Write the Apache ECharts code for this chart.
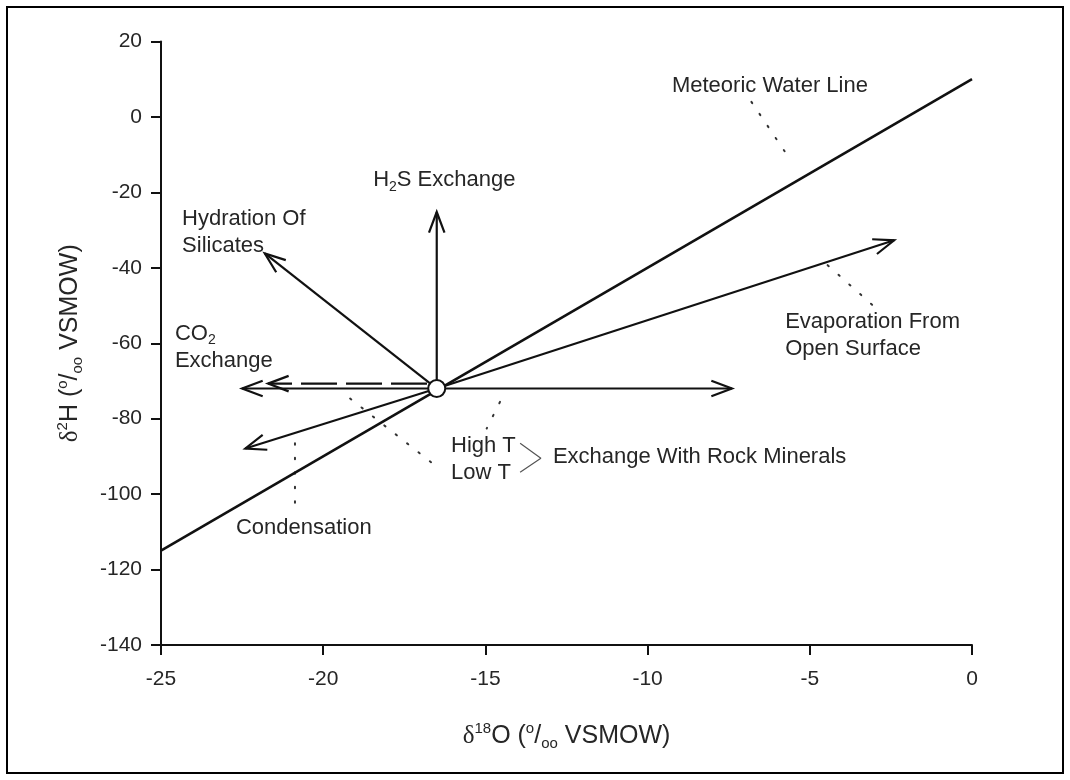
<!DOCTYPE html>
<html>
<head>
<meta charset="utf-8">
<title>Isotope shifts relative to the Meteoric Water Line</title>
<script src="https://cdn.jsdelivr.net/npm/echarts@6/dist/echarts.min.js"></script>
<style>
  html, body { margin: 0; padding: 0; background: #fff; }
  #chart { width: 1070px; height: 780px; }
</style>
</head>
<body>
<div id="chart"></div>
<script>
// Axis ranges and ticks (delta-18O on x, delta-2H on y, per mil VSMOW)
const xTicks = [-25, -20, -15, -10, -5, 0];
const yTicks = [-140, -120, -100, -80, -60, -40, -20, 0, 20];

// Meteoric Water Line end points
const mwlX = [-25, 0];
const mwlY = [-115, 10];

// Starting water composition (open circle)
const origin = [-16.5, -72];

// Process arrows: start and tip in delta units
const arrowNames   = ['H2S exchange', 'Hydration of silicates', 'CO2 exchange', 'Low T rock exchange', 'High T rock exchange', 'Evaporation', 'Condensation'];
const arrowStartX  = [-16.5, -16.5, -16.8, -16.5, -16.5, -16.5, -16.5];
const arrowStartY  = [-72, -72, -70.7, -72, -72, -72, -72];
const arrowTipX    = [-16.5, -21.8, -21.7, -22.5, -7.4, -2.4, -22.4];
const arrowTipY    = [-25.2, -36.2, -70.7, -72, -72, -32.7, -87.9];
const arrowDashed  = [0, 0, 1, 0, 0, 0, 0];

// Dotted leader lines from the labels to their marks
const leaderX0 = [-6.8, -4.45, -14.55, -19.17, -20.87];
const leaderY0 = [4.0, -39.3, -75.55, -74.65, -86.5];
const leaderX1 = [-5.65, -3.0, -14.96, -16.52, -20.87];
const leaderY1 = [-10.7, -50.4, -82.6, -92.6, -104.2];

// Annotation texts and their left/middle anchors
const noteText = [
  'Meteoric Water Line',
  '{t|H}{sub|2}{t|S Exchange}',
  'Hydration Of\nSilicates',
  '{t|CO}{sub|2}\n{t|Exchange}',
  'High T\nLow T',
  'Exchange With Rock Minerals',
  'Evaporation From\nOpen Surface',
  'Condensation'
];
const noteX = [-9.25, -18.46, -24.35, -24.57, -16.06, -12.92, -5.76, -22.69];
const noteY = [8.1, -16.8, -30.5, -61.1, -90.7, -90.2, -57.9, -109.0];

// Angle bracket joining "High T" and "Low T"
const braceX = [-13.93, -13.29, -13.93];
const braceY = [-86.5, -90.5, -94.2];

const INK = '#111';
const TEXT = '#262626';
const SANS = '"Liberation Sans", Arial, Helvetica, sans-serif';

const arrowData = arrowNames.map((n, i) => [arrowStartX[i], arrowStartY[i], arrowTipX[i], arrowTipY[i], arrowDashed[i]]);
const leaderData = leaderX0.map((x, i) => [x, leaderY0[i], leaderX1[i], leaderY1[i]]);
const noteData = noteText.map((t, i) => [noteX[i], noteY[i], i]);
const braceData = braceX.map((x, i) => [x, braceY[i]]);

const noteRich = {
  t: { fontSize: 22, lineHeight: 27, fontFamily: SANS, color: TEXT },
  sub: { fontSize: 14, lineHeight: 14, fontFamily: SANS, verticalAlign: 'bottom', color: TEXT }
};

function renderArrow(params, api) {
  const p0 = api.coord([api.value(0), api.value(1)]);
  const p1 = api.coord([api.value(2), api.value(3)]);
  const dashed = api.value(4) === 1;
  const ang = Math.atan2(p1[1] - p0[1], p1[0] - p0[0]);
  const L = 22, spread = 0.36;
  const h1 = [p1[0] - L * Math.cos(ang - spread), p1[1] - L * Math.sin(ang - spread)];
  const h2 = [p1[0] - L * Math.cos(ang + spread), p1[1] - L * Math.sin(ang + spread)];
  return {
    type: 'group',
    children: [
      { type: 'line', shape: { x1: p0[0], y1: p0[1], x2: p1[0], y2: p1[1] },
        style: { stroke: INK, lineWidth: 2.2, lineDash: dashed ? [36, 9] : null } },
      { type: 'polyline', shape: { points: [h1, p1, h2] },
        style: { stroke: INK, lineWidth: 2.2, fill: null } }
    ]
  };
}

function renderLeader(params, api) {
  const p0 = api.coord([api.value(0), api.value(1)]);
  const p1 = api.coord([api.value(2), api.value(3)]);
  return {
    type: 'line',
    shape: { x1: p0[0], y1: p0[1], x2: p1[0], y2: p1[1] },
    style: { stroke: '#333', lineWidth: 2, lineDash: [1.5, 13], lineCap: 'round' }
  };
}

function renderNote(params, api) {
  const p = api.coord([api.value(0), api.value(1)]);
  return {
    type: 'text',
    x: p[0], y: p[1],
    style: {
      text: noteText[api.value(2)],
      fontSize: 22, lineHeight: 27, fontFamily: SANS,
      fill: TEXT, align: 'left', verticalAlign: 'middle',
      rich: noteRich
    }
  };
}

const nameRich = {
  n: { fontSize: 25, lineHeight: 30, fontFamily: SANS, color: TEXT },
  d: { fontSize: 25, lineHeight: 30, fontFamily: '"Liberation Serif", "DejaVu Serif", serif', color: TEXT },
  sup: { fontSize: 15, lineHeight: 15, fontFamily: SANS, verticalAlign: 'top', color: TEXT },
  sub: { fontSize: 15, lineHeight: 15, fontFamily: SANS, verticalAlign: 'bottom', color: TEXT }
};

const chart = echarts.init(document.getElementById('chart'), null, { renderer: 'canvas' });

chart.setOption({
  backgroundColor: '#fff',
  animation: false,
  graphic: [{
    type: 'rect',
    shape: { x: 7, y: 7, width: 1056, height: 766 },
    style: { fill: null, stroke: '#000', lineWidth: 2 },
    silent: true
  }],
  grid: { left: 161, right: 98, top: 41.5, bottom: 135 },
  xAxis: {
    type: 'value',
    min: xTicks[0], max: xTicks[xTicks.length - 1], interval: 5,
    name: '{d|δ}{sup|18}{n|O (}{sup|o}{n|/}{sub|oo}{n| VSMOW)}',
    nameLocation: 'middle', nameGap: 76,
    nameTextStyle: { rich: nameRich },
    axisLine: { show: true, onZero: false, lineStyle: { color: INK, width: 2 } },
    axisTick: { show: true, length: 10, lineStyle: { color: INK, width: 2 } },
    axisLabel: { margin: 24, fontSize: 21, fontFamily: SANS, color: TEXT,
                 formatter: v => (xTicks.includes(v) ? String(v) : '') },
    splitLine: { show: false }
  },
  yAxis: {
    type: 'value',
    min: yTicks[0], max: yTicks[yTicks.length - 1], interval: 20,
    name: '{d|δ}{sup|2}{n|H (}{sup|o}{n|/}{sub|oo}{n| VSMOW)}',
    nameLocation: 'middle', nameRotate: 90, nameGap: 76,
    nameTextStyle: { rich: nameRich },
    axisLine: { show: true, onZero: false, lineStyle: { color: INK, width: 2 } },
    axisTick: { show: true, length: 10, lineStyle: { color: INK, width: 2 } },
    axisLabel: { margin: 19, fontSize: 21, fontFamily: SANS, color: TEXT,
                 formatter: v => (yTicks.includes(v) ? String(v) : '') },
    splitLine: { show: false }
  },
  series: [
    {
      name: 'Meteoric Water Line',
      type: 'line',
      data: mwlX.map((x, i) => [x, mwlY[i]]),
      symbol: 'none',
      lineStyle: { color: INK, width: 2.6 },
      z: 3
    },
    {
      name: 'Leaders',
      type: 'custom',
      renderItem: renderLeader,
      data: leaderData,
      encode: { x: [0, 2], y: [1, 3] },
      z: 2
    },
    {
      name: 'Processes',
      type: 'custom',
      renderItem: renderArrow,
      data: arrowData,
      encode: { x: [0, 2], y: [1, 3] },
      z: 4
    },
    {
      name: 'Rock exchange bracket',
      type: 'line',
      data: braceData,
      symbol: 'none',
      lineStyle: { color: '#555', width: 1.2 },
      z: 3
    },
    {
      name: 'Notes',
      type: 'custom',
      renderItem: renderNote,
      data: noteData,
      encode: { x: 0, y: 1 },
      z: 5
    },
    {
      name: 'Initial water',
      type: 'scatter',
      data: [origin],
      symbol: 'circle',
      symbolSize: 17,
      itemStyle: { color: '#fff', borderColor: INK, borderWidth: 2, opacity: 1 },
      z: 6
    }
  ]
});
</script>
</body>
</html>
